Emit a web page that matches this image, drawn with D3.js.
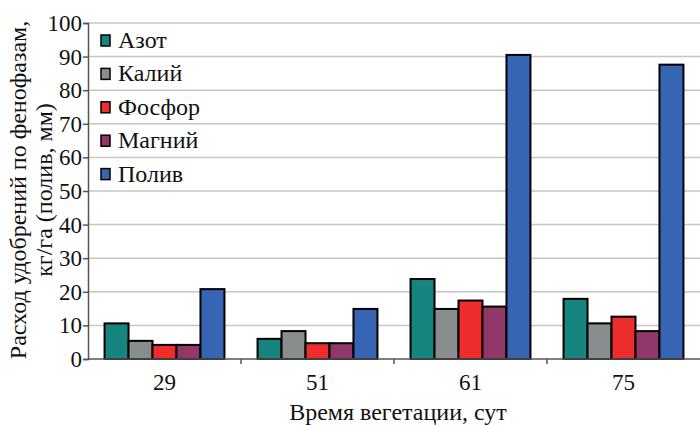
<!DOCTYPE html>
<html><head><meta charset="utf-8">
<script src="https://cdn.jsdelivr.net/npm/d3@7"></script>
<style>
@font-face { font-family: "ChartSerif"; src: local("Liberation Serif"), local("LiberationSerif"), local("Tinos"), local("Times New Roman"); }
</style>
</head><body style="margin:0">
<svg id="c" width="700" height="425"></svg>
<script>
const categories = ["29","51","61","75"];
const seriesNames = ["Азот","Калий","Фосфор","Магний","Полив"];
const azot   = [10.6, 6.0, 23.8, 17.9];
const kaliy  = [5.4, 8.3, 14.9, 10.6];
const fosfor = [4.2, 4.7, 17.4, 12.6];
const magniy = [4.2, 4.7, 15.6, 8.3];
const poliv  = [20.8, 14.9, 90.5, 87.6];
const yTicks = [0,10,20,30,40,50,60,70,80,90,100];
const colors = ["#168580","#8a8d8e","#ee2d2d","#913769","#3665b3"];
const series = [azot, kaliy, fosfor, magniy, poliv];
const FF = "'Liberation Serif', ChartSerif, 'Times New Roman', Tinos, serif";

const svg = d3.select("#c").style("font-family", FF);
const x0 = d3.scaleBand().domain(categories).range([88, 700]).paddingInner(0).paddingOuter(0);
const x1 = d3.scaleBand().domain(seriesNames).range([0, x0.bandwidth()]).paddingInner(0).paddingOuter(0.69);
const y = d3.scaleLinear().domain([0,100]).range([359, 23]);

svg.append("g").selectAll("line").data(yTicks.slice(1)).join("line")
  .attr("x1",88).attr("x2",700).attr("y1",d=>y(d)).attr("y2",d=>y(d))
  .attr("stroke","#c6c6c6").attr("stroke-width",1.5);

const g = svg.append("g");
categories.forEach((c,i)=>{
  seriesNames.forEach((s,j)=>{
    const v = series[j][i];
    g.append("rect")
      .attr("x", x0(c)+x1(s)).attr("width", x1.bandwidth())
      .attr("y", y(v)).attr("height", y(0)-y(v))
      .attr("fill", colors[j]).attr("stroke","#000").attr("stroke-width",2);
  });
});

const ya = svg.append("g").attr("transform","translate(88,0)")
  .call(d3.axisLeft(y).tickValues(yTicks).tickSize(5).tickFormat(""));
ya.select(".domain").attr("stroke","#555").attr("stroke-width",1.5);
ya.selectAll(".tick line").attr("stroke","#555").attr("stroke-width",1.5);

function txt(sel){ return sel.attr("font-family", FF).style("font-family", FF).attr("fill","#111"); }

txt(svg.append("g").selectAll("text").data(yTicks).join("text"))
  .attr("x",82).attr("y",d=>y(d)+8).attr("text-anchor","end")
  .attr("font-size",23).text(d=>d);

svg.append("line").attr("x1",88).attr("x2",700).attr("y1",y(0)).attr("y2",y(0)).attr("stroke","#555").attr("stroke-width",1.5);
svg.append("g").selectAll("line").data(categories.slice(1)).join("line")
  .attr("x1",d=>x0(d)).attr("x2",d=>x0(d)).attr("y1",y(0)).attr("y2",y(0)+5)
  .attr("stroke","#555").attr("stroke-width",1.5);
txt(svg.append("g").selectAll("text").data(categories).join("text"))
  .attr("x",d=>x0(d)+x0.bandwidth()/2).attr("y",390)
  .attr("text-anchor","middle").attr("font-size",23).text(d=>d);

txt(svg.append("text")).attr("x",398).attr("y",420).attr("text-anchor","middle")
  .attr("font-size",24).text("Время вегетации, сут");
txt(svg.append("text")).attr("transform","translate(26,190) rotate(-90)").attr("text-anchor","middle")
  .attr("font-size",24).text("Расход удобрений по фенофазам,");
txt(svg.append("text")).attr("transform","translate(52,190) rotate(-90)").attr("text-anchor","middle")
  .attr("font-size",24).text("кг/га (полив, мм)");

seriesNames.forEach((s,j)=>{
  const cy = 40 + j*33.4;
  svg.append("rect").attr("x",101).attr("y",cy-5).attr("width",9).attr("height",11)
    .attr("fill",colors[j]).attr("stroke","#000").attr("stroke-width",1.5);
  txt(svg.append("text")).attr("x",118).attr("y",cy+8).attr("font-size",24).text(s);
});
</script></body></html>
